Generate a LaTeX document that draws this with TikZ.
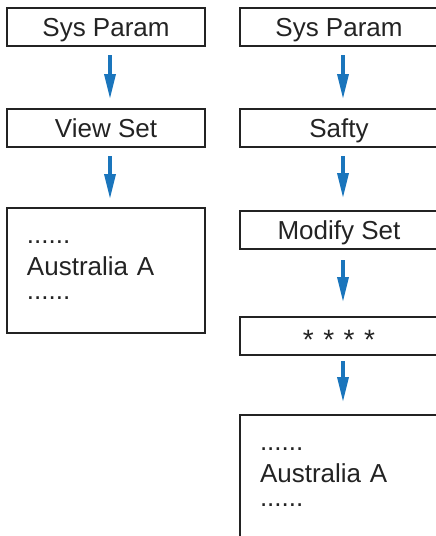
\documentclass[tikz,border=0pt]{standalone}
\usepackage{fontspec}
\setmainfont{Liberation Sans}
\usepackage{xcolor}
\usepackage{tikz}
\usetikzlibrary{arrows.meta}

\definecolor{flowblue}{RGB}{26,117,188}
\definecolor{boxgray}{RGB}{35,35,35}

\begin{document}
\begin{tikzpicture}[
  x=1pt, y=-1pt,
  font=\fontsize{26}{28}\selectfont,
  box/.style={draw=boxgray, line width=2pt, minimum width=198pt, minimum height=38pt,
    inner sep=3pt, text=boxgray, text height=19pt, text depth=0pt},
  bigbox/.style={draw=boxgray, line width=2pt, minimum width=198pt, minimum height=125pt,
    inner xsep=4pt, text width=158pt, align=left, text=boxgray},
  arr/.style={-{Triangle[length=25pt, width=11pt]}, line width=3.5pt, draw=flowblue,
    shorten <=8pt, shorten >=9pt},
]
\clip (0,0) rectangle (436,536);
\useasboundingbox (0,0) rectangle (436,536);

% left column
\node[box] (lparam) at (106,27) {Sys Param};
\node[box] (lview) at (106,128) {View Set};
\node[bigbox] (lregion) at (106,270.5) {......\\[4pt] Australia A\\[-4pt] ......};

% right column
\node[box] (rparam) at (339,27) {Sys Param};
\node[box] (rsafty) at (339,128) {Safty};
\node[box] (rmodify) at (339,230) {Modify Set};
\node[box, text height=27pt, font=\fontsize{28}{30}\selectfont] (rpass) at (339,336)
  {*\hspace{9.5pt}*\hspace{9.5pt}*\hspace{9.5pt}*};
\node[bigbox] (rregion) at (339,477.5) {......\\[4pt] Australia A\\[-4pt] ......};

\draw[arr] ([xshift=4pt]lparam.south) -- ([xshift=4pt]lview.north);
\draw[arr, shorten >=8pt] ([xshift=4pt]lview.south) -- ([xshift=4pt]lregion.north);

\draw[arr] ([xshift=4pt]rparam.south) -- ([xshift=4pt]rsafty.north);
\draw[arr, shorten >=12pt] ([xshift=4pt]rsafty.south) -- ([xshift=4pt]rmodify.north);
\draw[arr, shorten <=10pt, shorten >=14pt] ([xshift=4pt]rmodify.south) -- ([xshift=4pt]rpass.north);
\draw[arr, shorten <=5pt, shorten >=12pt] ([xshift=4pt]rpass.south) -- ([xshift=4pt]rregion.north);

\end{tikzpicture}
\end{document}
